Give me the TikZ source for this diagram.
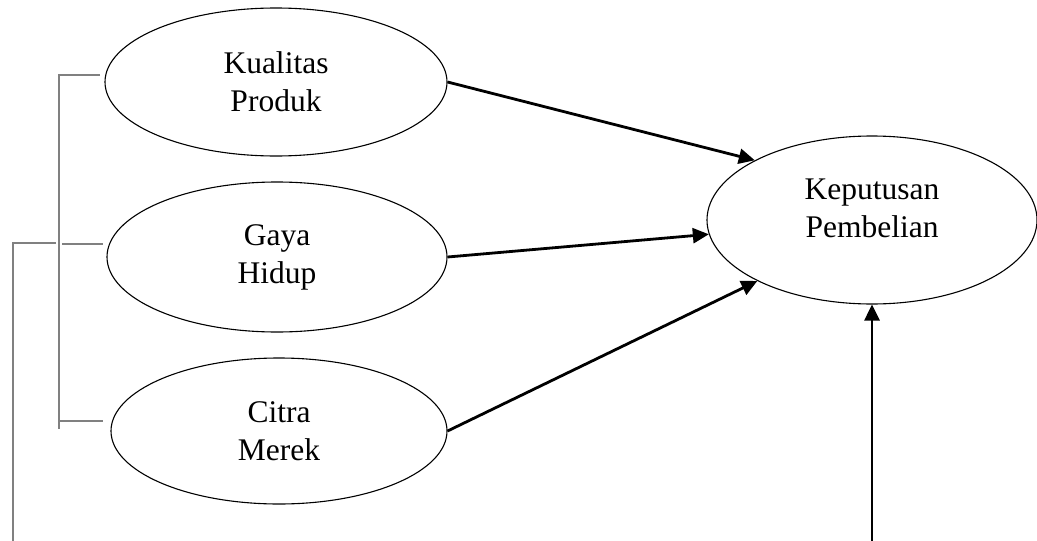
\documentclass[tikz,border=0pt]{standalone}
\usepackage{fontspec}
\setmainfont{Liberation Serif}
\usetikzlibrary{shapes.geometric, arrows.meta}

\begin{document}
\begin{tikzpicture}[x=1pt, y=-1pt,
	var/.style={ellipse, draw, line width=1.1pt, inner sep=0pt, align=center, font=\fontsize{31.5}{38}\selectfont},
	effect/.style={line width=2.8pt, -{Triangle[length=16pt, width=15pt]}},
	group/.style={line width=1.8pt, gray}]

	\useasboundingbox (0,0) rectangle (1037,541);

	\draw
		(276,82) node[var, minimum width=342pt, minimum height=148pt] (kual) {Kualitas\\Produk}
		(277,257) node[var, minimum width=340pt, minimum height=150pt] (gaya) {Gaya\\Hidup}
		(279,431) node[var, minimum width=336pt, minimum height=146pt] (citra) {Citra\\Merek};

	\draw
		(872,220) node[var, minimum width=330pt, minimum height=168pt,
			label={[font=\fontsize{31.5}{38}\selectfont, align=center, yshift=12pt]center:{Keputusan\\Pembelian}}] (kep) {};

	\coordinate (top1) at (100,75);
	\coordinate (top2) at (59,75);
	\coordinate (mid1) at (62,244);
	\coordinate (mid2) at (103,244);
	\coordinate (low1) at (59,421);
	\coordinate (low2) at (103,421);
	\coordinate (end1) at (59,429);
	\coordinate (base) at (13,541);
	\coordinate (knee) at (13,243);
	\coordinate (join) at (56,243);
	\coordinate (bot) at (872,541);

	\draw[group]
		(top1) -- (top2) -- (end1)
		(mid1) -- (mid2)
		(low1) -- (low2)
		(base) -- (knee) -- (join);

	\draw[effect] (kual.east) -- (kep.153);
	\draw[effect] (gaya.east) -- (kep.185);
	\draw[effect] (citra.east) -- (kep.208);
	\draw[effect] (bot) -- (kep.south);
\end{tikzpicture}
\end{document}
